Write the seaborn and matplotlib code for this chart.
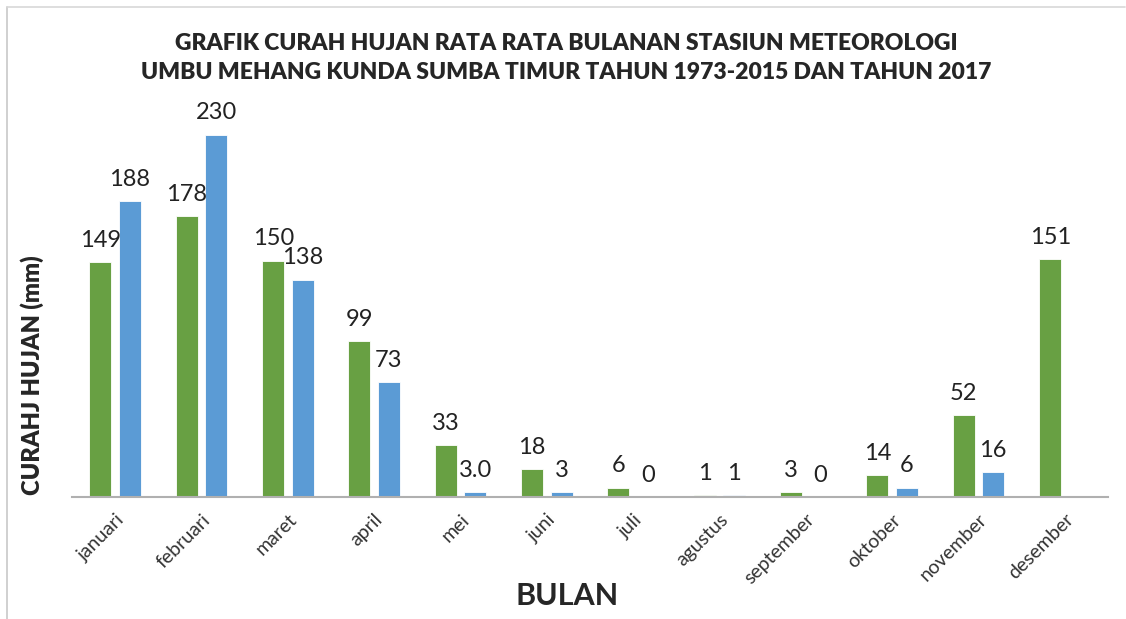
import numpy as np
import pandas as pd
import seaborn as sns
import matplotlib.pyplot as plt
from matplotlib.lines import Line2D

# data
bulan = ['januari', 'februari', 'maret', 'april', 'mei', 'juni', 'juli',
         'agustus', 'september', 'oktober', 'november', 'desember']
hujan_1973_2015 = [149, 178, 150, 99, 33, 18, 6, 1, 3, 14, 52, 151]
hujan_2017 = [188, 230, 138, 73, 3.0, 3, 0, 1, 0, 6, 16, np.nan]
label_1973_2015 = ['149', '178', '150', '99', '33', '18', '6', '1', '3', '14', '52', '151']
label_2017 = ['188', '230', '138', '73', '3.0', '3', '0', '1', '0', '6', '16']

df = pd.DataFrame({
    'bulan': bulan * 2,
    'periode': ['1973-2015'] * 12 + ['2017'] * 12,
    'hujan': hujan_1973_2015 + hujan_2017,
})
df = df.dropna()

sns.set_style('white')
plt.rcParams['font.family'] = ['Lato', 'DejaVu Sans']

fig = plt.figure(figsize=(11.26, 6.19), dpi=100)
ax = fig.add_axes([72 / 1126, 122 / 619, 1036 / 1126, 394 / 619])

sns.barplot(data=df, x='bulan', y='hujan', hue='periode', order=bulan,
            palette=['#68A043', '#5B9BD5'], width=0.68, gap=0.25,
            edgecolor='white', linewidth=0.6, saturation=1, legend=False, ax=ax)

for cont, labs in zip(ax.containers, [label_1973_2015, label_2017]):
    ax.bar_label(cont, labels=labs, padding=8, fontsize=17, color='#222222')

ax.set_xlim(-0.5, 11.5)
ax.set_ylim(0, 250)
ax.set_yticks([])
ax.set_xlabel('BULAN', fontsize=22, fontweight='bold')
ax.set_ylabel('CURAHJ HUJAN (mm)', fontsize=17, fontweight='heavy')
ax.xaxis.set_label_coords(0.478, -0.215)
ax.yaxis.set_label_coords(-0.027, 0.31)
ax.tick_params(axis='x', length=0, pad=10)
plt.setp(ax.get_xticklabels(), rotation=45, ha='right', rotation_mode='anchor',
         fontsize=14, color='#333333')

for s in ['top', 'right', 'left']:
    ax.spines[s].set_visible(False)
ax.spines['bottom'].set_color('#b0b0b0')
ax.spines['bottom'].set_linewidth(1.5)

fig.text(0.503, 0.93, 'GRAFIK CURAH HUJAN RATA RATA BULANAN STASIUN METEOROLOGI',
         ha='center', va='center', fontsize=16.5, fontweight='heavy')
fig.text(0.503, 0.883, 'UMBU MEHANG KUNDA SUMBA TIMUR TAHUN 1973-2015 DAN TAHUN 2017',
         ha='center', va='center', fontsize=16.5, fontweight='heavy')

# outer frame (left and top edges visible)
fig.add_artist(Line2D([7 / 1126, 7 / 1126], [0, 1 - 7 / 619], color='#c8c8c8', lw=1.2,
                      transform=fig.transFigure))
fig.add_artist(Line2D([7 / 1126, 1125 / 1126], [1 - 7 / 619, 1 - 7 / 619], color='#d8d8d8',
                      lw=1.2, transform=fig.transFigure))

fig.savefig('out.png', dpi=100)
